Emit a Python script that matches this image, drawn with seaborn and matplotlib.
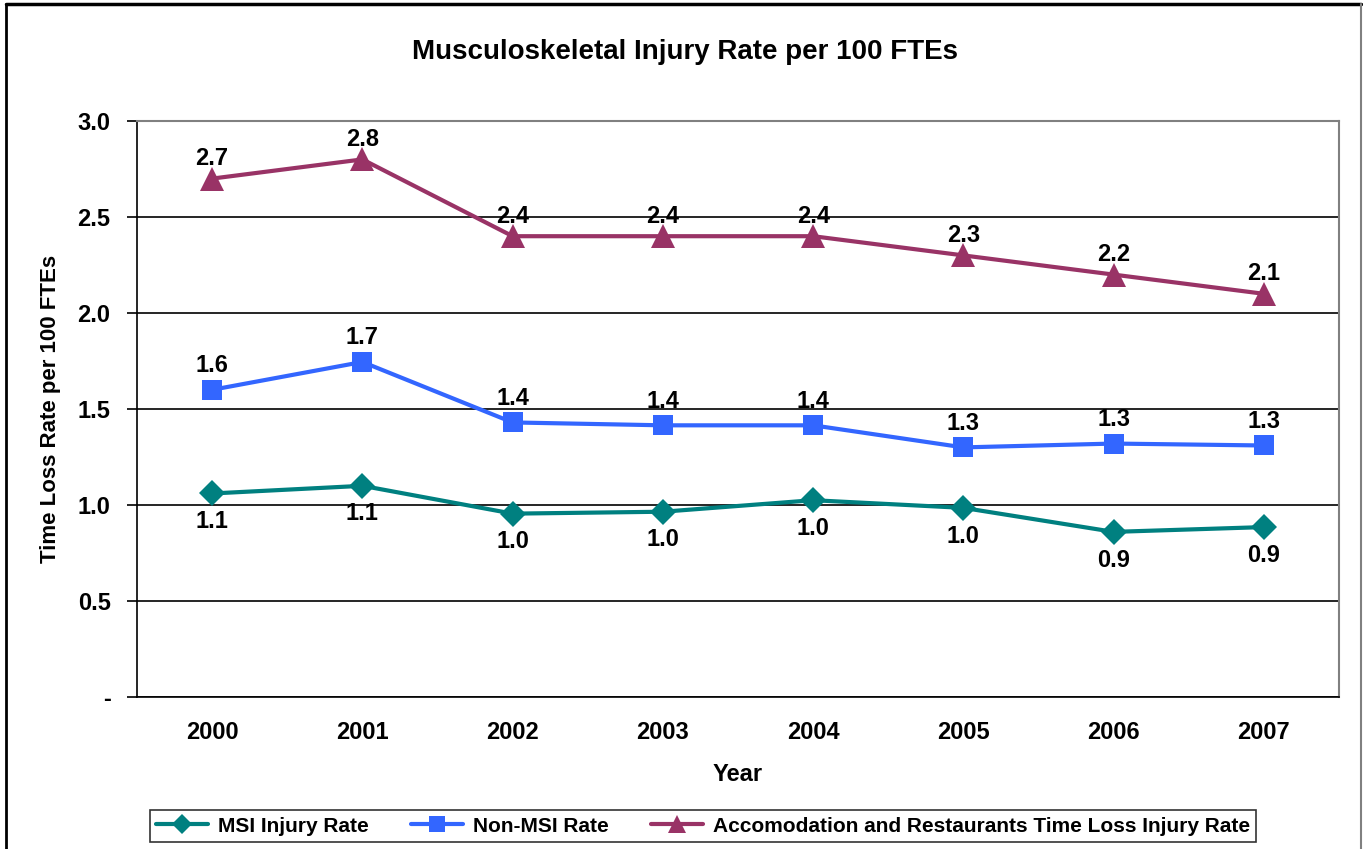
import matplotlib
matplotlib.use("Agg")
import matplotlib.pyplot as plt
from matplotlib.lines import Line2D
import seaborn as sns
import pandas as pd
import numpy as np

years = ["2000", "2001", "2002", "2003", "2004", "2005", "2006", "2007"]
msi = [1.06, 1.10, 0.955, 0.965, 1.025, 0.985, 0.86, 0.885]
non_msi = [1.60, 1.745, 1.43, 1.415, 1.415, 1.30, 1.32, 1.31]
accom = [2.70, 2.80, 2.40, 2.40, 2.40, 2.30, 2.20, 2.10]
series_names = ["MSI Injury Rate", "Non-MSI Rate",
                "Accomodation and Restaurants Time Loss Injury Rate"]
yticks = [0.0, 0.5, 1.0, 1.5, 2.0, 2.5, 3.0]
ytick_labels = ["-", "0.5", "1.0", "1.5", "2.0", "2.5", "3.0"]

colors = ["#008080", "#3366FF", "#993366"]
markers = ["D", "s", "^"]
msizes = [13, 14, 17]

sns.set_style("white")
plt.rcParams['font.family'] = ['Liberation Sans', 'DejaVu Sans']
plt.rcParams['font.weight'] = 'bold'
plt.rcParams['text.color'] = 'black'
plt.rcParams['axes.labelcolor'] = 'black'
plt.rcParams['xtick.color'] = 'black'
plt.rcParams['ytick.color'] = 'black'

fig = plt.figure(figsize=(13.63, 8.49), dpi=100)
ax = fig.add_axes([137/1363, 1 - 697/849, (1339-137)/1363, (697-121)/849])

rows = []
for name, vals in zip(series_names, [msi, non_msi, accom]):
    for i, v in enumerate(vals):
        rows.append({"x": i, "rate": v, "series": name})
df = pd.DataFrame(rows)

for name, col, mk, ms in zip(series_names, colors, markers, msizes):
    sub = df[df["series"] == name]
    sns.lineplot(data=sub, x="x", y="rate", ax=ax, color=col, lw=3,
                 marker=mk, markersize=ms, markeredgewidth=0, legend=False)

lab_fs = 17
for i, v in enumerate(accom):
    ax.annotate(f"{v:.1f}", (i, v), xytext=(0, 6), textcoords="offset points",
                ha="center", va="bottom", fontsize=lab_fs, fontweight="bold")
for i, v in enumerate(non_msi):
    ax.annotate(f"{v:.1f}", (i, v), xytext=(0, 9), textcoords="offset points",
                ha="center", va="bottom", fontsize=lab_fs, fontweight="bold")
for i, v in enumerate(msi):
    ax.annotate(f"{v:.1f}", (i, v), xytext=(0, -12), textcoords="offset points",
                ha="center", va="top", fontsize=lab_fs, fontweight="bold")

ax.set_xlim(-0.5, 7.5)
ax.set_ylim(0, 3.0)
ax.set_xticks(range(len(years)))
ax.set_xticklabels(years, fontsize=17, fontweight="bold")
ax.set_xticks(np.arange(-0.5, 8.0, 1.0), minor=True)
ax.tick_params(axis="x", which="major", length=0, pad=17)
ax.tick_params(axis="x", which="minor", length=8, width=1.2, direction="out", color="black")
ax.set_yticks(yticks)
ax.set_yticklabels(ytick_labels, fontsize=17, fontweight="bold")
ax.tick_params(axis="y", length=7, width=1.2, direction="out", color="black", pad=12, left=True)
ax.yaxis.grid(True, color="black", lw=1.2)
ax.xaxis.grid(False)
ax.set_axisbelow(True)

for s in ["left", "bottom"]:
    ax.spines[s].set_color("black")
    ax.spines[s].set_linewidth(1.2)
for s in ["top", "right"]:
    ax.spines[s].set_visible(True)
    ax.spines[s].set_color("#808080")
    ax.spines[s].set_linewidth(1.5)

ax.set_xlabel("Year", fontsize=17, fontweight="bold", labelpad=14)
ax.set_ylabel("Time Loss Rate per 100 FTEs", fontsize=16, fontweight="bold", labelpad=12)

fig.text(685/1363, 1 - 52/849, "Musculoskeletal Injury Rate per 100 FTEs",
         ha="center", va="center", fontsize=20, fontweight="bold")

handles = [Line2D([0], [0], color=c, lw=3, marker=m, markersize=s * 0.8, markeredgewidth=0)
           for c, m, s in zip(colors, markers, msizes)]
leg = fig.legend(handles, series_names, loc="center", bbox_to_anchor=(703/1363, 1 - 826/849),
                 ncol=3, frameon=True, fancybox=False, edgecolor="black",
                 prop={"size": 15, "weight": "bold"}, handlelength=2.5, columnspacing=2.0,
                 borderpad=0.3, handletextpad=0.5)
leg.get_frame().set_linewidth(1.2)

# outer chart border
fig.add_artist(Line2D([6/1363, 6/1363], [-0.1, 1 - 4/849], color="black", lw=2, transform=fig.transFigure))
fig.add_artist(Line2D([6/1363, 1361/1363], [1 - 4/849, 1 - 4/849], color="black", lw=2.5, transform=fig.transFigure))
fig.add_artist(Line2D([1361/1363, 1361/1363], [-0.1, 1 - 4/849], color="#808080", lw=1.5, transform=fig.transFigure))

fig.savefig("out.png", dpi=100)
